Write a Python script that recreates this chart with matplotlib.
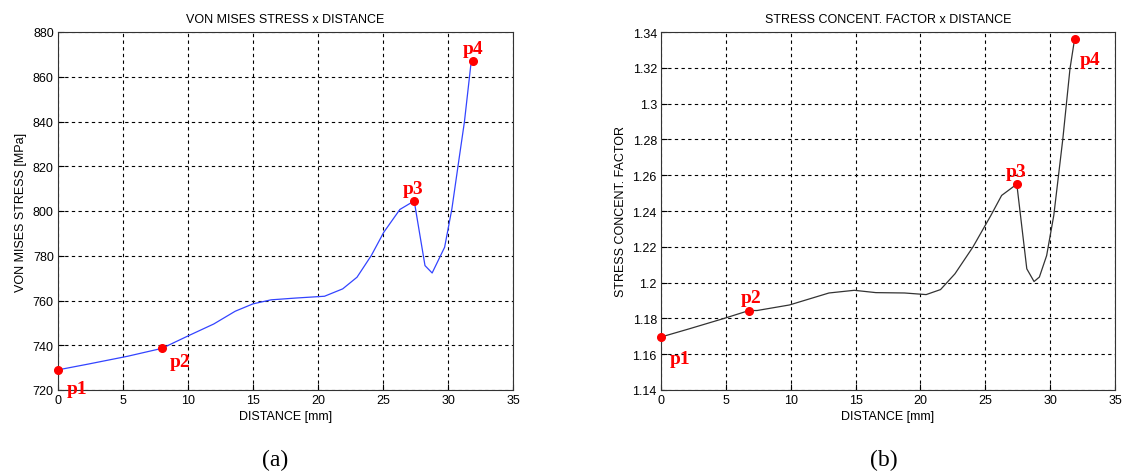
import numpy as np
import matplotlib
matplotlib.use("Agg")
import matplotlib.pyplot as plt

# von Mises stress along the path
dist_a = [0, 2.34, 5.37, 7.99, 10.05, 11.98, 13.63, 15.0, 16.39, 18.3, 20.5, 21.9,
          23.0, 24.1, 25.06, 26.3, 27.4, 28.23, 28.78, 29.74, 30.3, 30.85, 31.26,
          31.75, 31.95]
vm_stress = [729.0, 731.6, 735.1, 738.6, 744.3, 749.5, 755.2, 758.5, 760.3, 761.1,
             761.9, 765.2, 770.4, 780.1, 790.5, 800.7, 804.5, 775.6, 772.3, 783.8,
             801.0, 823.3, 839.7, 865.0, 866.9]
pts_a_x = [0, 7.99, 27.4, 31.95]
pts_a_y = [729.0, 738.6, 804.5, 866.9]

# stress concentration factor along the path
dist_b = [0, 2.14, 4.91, 6.79, 7.4, 9.9, 12.95, 14.9, 16.56, 18.77, 20.44, 21.55,
          22.66, 24.04, 25.43, 26.26, 27.43, 28.2, 28.76, 29.17, 29.73, 30.28,
          30.98, 31.53, 31.89]
scf = [1.1696, 1.1741, 1.1801, 1.1844, 1.1844, 1.1875, 1.1942, 1.1957, 1.1944,
       1.1942, 1.1933, 1.1961, 1.2049, 1.2198, 1.2375, 1.2487, 1.255, 1.2077,
       1.2006, 1.2031, 1.2151, 1.2375, 1.2804, 1.3195, 1.3363]
pts_b_x = [0, 6.79, 27.43, 31.89]
pts_b_y = [1.1696, 1.1844, 1.255, 1.3363]

pt_names = ["p1", "p2", "p3", "p4"]

W, H = 1123, 477
fig = plt.figure(figsize=(W / 100, H / 100), dpi=100)
plt.rcParams["font.family"] = "Liberation Sans"

def box(l, r, t, b):
    return [l / W, 1 - b / H, (r - l) / W, (b - t) / H]

ax1 = fig.add_axes(box(58, 513, 33, 391))
ax2 = fig.add_axes(box(661, 1115, 33, 391))

lab_font = dict(family="Liberation Serif", fontweight="bold", color="red", fontsize=14)

def style(ax):
    ax.grid(True, color="black", linestyle=(0, (3, 3)), linewidth=0.8)
    ax.tick_params(direction="in", labelsize=9, length=4, width=0.8, pad=3)
    for s in ax.spines.values():
        s.set_linewidth(0.8)
        s.set_color("#333333")
    ax.set_xlim(0, 35)
    ax.set_xticks(np.arange(0, 36, 5))

# (a)
ax1.plot(dist_a, vm_stress, color="#3344ff", lw=0.9)
ax1.plot(pts_a_x, pts_a_y, "o", color="red", ms=5.5, clip_on=False, zorder=5)
ax1.set_ylim(720, 880)
ax1.set_yticks(np.arange(720, 881, 20))
style(ax1)
ax1.set_title("VON MISES STRESS x DISTANCE", fontsize=9, pad=7)
ax1.set_xlabel("DISTANCE [mm]", fontsize=9, labelpad=3)
ax1.set_ylabel("VON MISES STRESS [MPa]", fontsize=9, labelpad=4)
offs_a = [(6, -17), (6, -13), (-8, 6), (-8, 6)]
for n, x, y, o in zip(pt_names, pts_a_x, pts_a_y, offs_a):
    ax1.annotate(n, (x, y), xytext=o, textcoords="offset points", **lab_font)

# (b)
ax2.plot(dist_b, scf, color="#333333", lw=0.9)
ax2.plot(pts_b_x, pts_b_y, "o", color="red", ms=5.5, clip_on=False, zorder=5)
sticks = np.round(np.arange(1.14, 1.341, 0.02), 2)
ax2.set_ylim(1.14, 1.34)
ax2.set_yticks(sticks)
ax2.set_yticklabels([f"{v:g}" for v in sticks])
style(ax2)
ax2.set_title("STRESS CONCENT. FACTOR x DISTANCE", fontsize=9, pad=7)
ax2.set_xlabel("DISTANCE [mm]", fontsize=9, labelpad=3)
ax2.set_ylabel("STRESS CONCENT. FACTOR", fontsize=9, labelpad=4)
offs_b = [(6, -19), (-6, 6), (-8, 6), (4, -18)]
for n, x, y, o in zip(pt_names, pts_b_x, pts_b_y, offs_b):
    ax2.annotate(n, (x, y), xytext=o, textcoords="offset points", **lab_font)

fig.text(275 / W, 1 - 460 / H, "(a)", family="Liberation Serif", fontsize=17,
         ha="center", va="center")
fig.text(884 / W, 1 - 460 / H, "(b)", family="Liberation Serif", fontsize=17,
         ha="center", va="center")

fig.savefig("out.png", dpi=100)
